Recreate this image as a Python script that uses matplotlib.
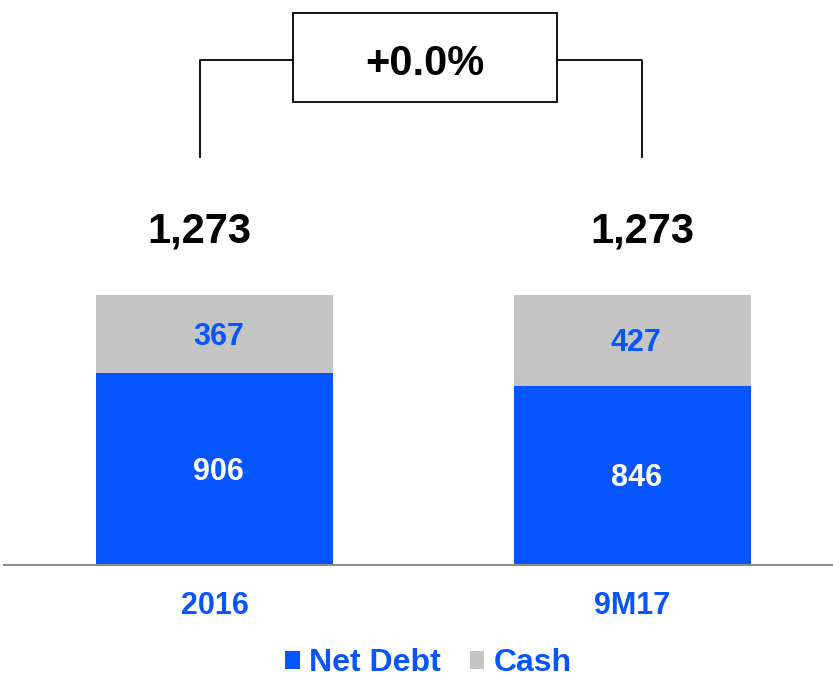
import numpy as np
import matplotlib.pyplot as plt
from matplotlib.patches import Rectangle

# Colours
blue = '#0655FF'
grey = '#C4C4C4'

# Data
categories = ['2016', '9M17']
net_debt = [906, 846]
cash = [367, 427]
totals = [1273, 1273]
change_label = '+0.0%'

plt.rcParams['font.family'] = ['Liberation Sans', 'DejaVu Sans']
plt.rcParams['font.weight'] = 'bold'

fig = plt.figure(figsize=(8.33, 6.78), dpi=100)
ax = fig.add_axes([4 / 833, 113 / 678, 829 / 833, 565 / 678])

x = np.arange(len(categories))
width = 0.568

ax.bar(x, net_debt, width, color=blue, label='Net Debt')
ax.bar(x, cash, width, bottom=net_debt, color=grey, label='Cash')

ax.set_xlim(-0.504, 1.481)
ax.set_ylim(0, 2664)

# Segment labels
for i in range(len(x)):
    ax.text(x[i] + 0.01, net_debt[i] / 2 - 14, f'{net_debt[i]:,}', ha='center', va='center',
            color='white', fontsize=22, fontweight='bold')
    ax.text(x[i] + 0.01, net_debt[i] + cash[i] / 2 - 14, f'{cash[i]:,}', ha='center', va='center',
            color=blue, fontsize=22, fontweight='bold')

# Total labels, centred on the bracket legs
leg_x = [x[0] - 0.035, x[1] + 0.024]
for i in range(len(x)):
    ax.text(leg_x[i], totals[i] + 300, f'{totals[i]:,}', ha='center', va='center',
            color='black', fontsize=30, fontweight='bold')

# Bracket with change box
y_low, y_top = 1923, 2381
box_l, box_r = (293 - 214.5) / 417.5, (557 - 214.5) / 417.5
box_b, box_t = 2183, 2602
ax.plot([leg_x[0], leg_x[0], box_l], [y_low, y_top, y_top], color='black', lw=1.3)
ax.plot([box_r, leg_x[1], leg_x[1]], [y_top, y_top, y_low], color='black', lw=1.3)
ax.add_patch(Rectangle((box_l, box_b), box_r - box_l, box_t - box_b,
                       facecolor='white', edgecolor='black', lw=1.3))
ax.text((box_l + box_r) / 2, (box_b + box_t) / 2 - 30, change_label, ha='center', va='center',
        color='black', fontsize=30, fontweight='bold')

# Axes styling
for s in ['top', 'right', 'left']:
    ax.spines[s].set_visible(False)
ax.spines['bottom'].set_color('#8C8C8C')
ax.spines['bottom'].set_linewidth(1.5)
ax.set_yticks([])
ax.set_xticks(x)
ax.set_xticklabels(categories, color=blue, fontsize=22, fontweight='bold')
ax.tick_params(axis='x', length=0, pad=19)

leg = ax.legend(loc='center', bbox_to_anchor=(0.512, -0.174), ncol=2, frameon=False,
                fontsize=23, handlelength=0.45, handleheight=0.45, handletextpad=0.3,
                columnspacing=0.9, borderaxespad=0, borderpad=0)
for t in leg.get_texts():
    t.set_color(blue)
    t.set_fontweight('bold')

fig.savefig('out.png', dpi=100)
